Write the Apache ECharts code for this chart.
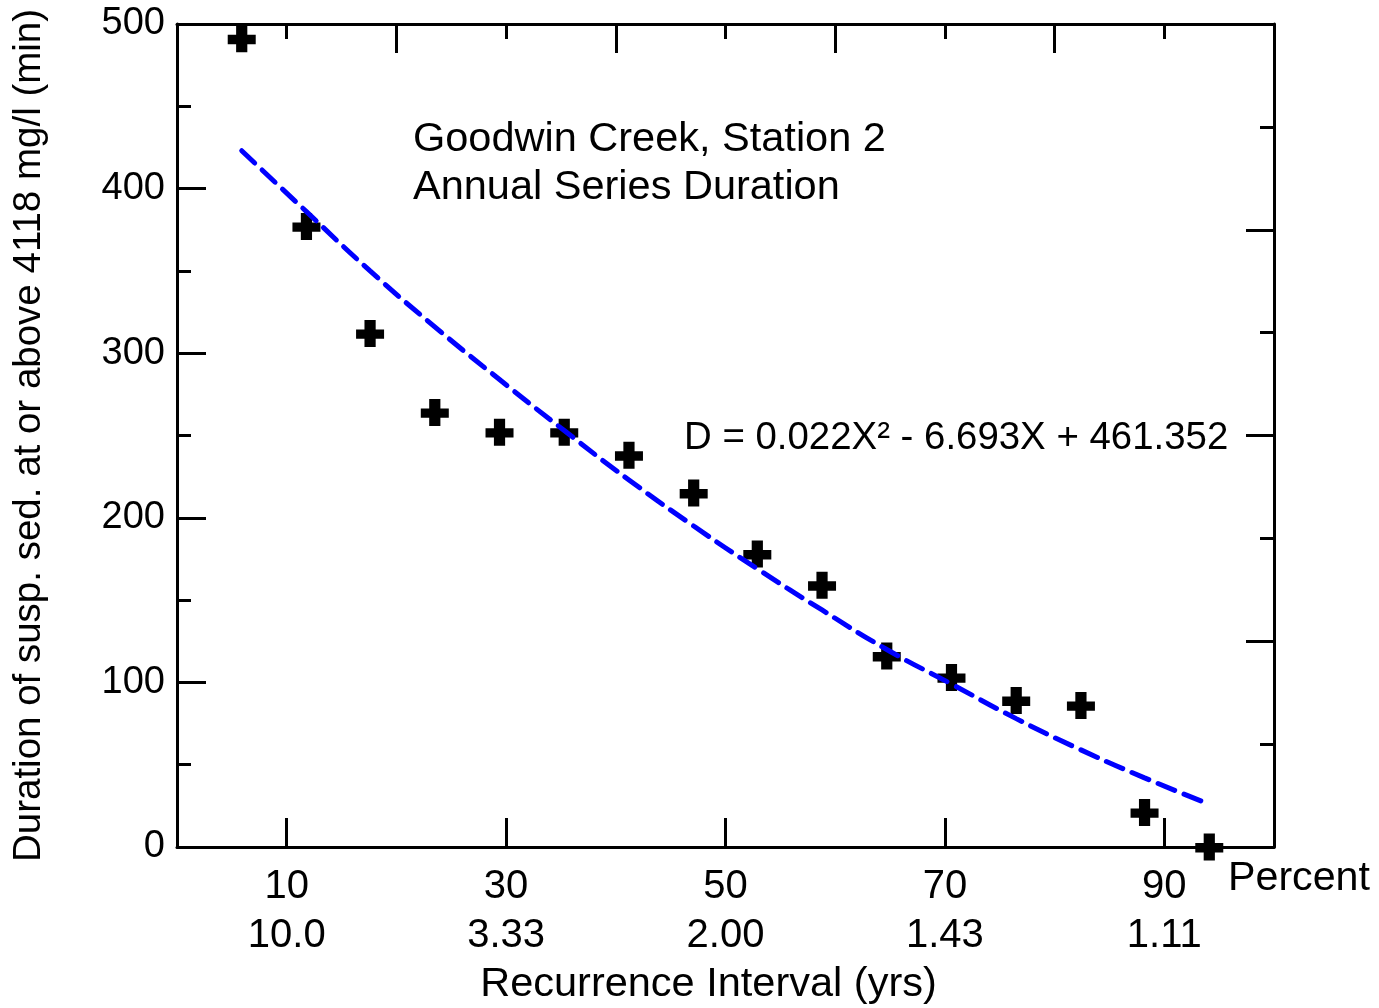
<!DOCTYPE html>
<html>
<head>
<meta charset="utf-8">
<script src="https://cdn.jsdelivr.net/npm/echarts@6/dist/echarts.min.js"></script>
<style>
html,body{margin:0;padding:0;background:#fff;}
#chart{width:1379px;height:1008px;}
</style>
</head>
<body>
<div id="chart"></div>
<script>
// Observed points: exceedance percent vs duration (min)
const pointPercent = [5.9, 11.8, 17.6, 23.5, 29.4, 35.3, 41.2, 47.1, 52.9, 58.8, 64.7, 70.6, 76.5, 82.4, 88.2, 94.1];
const pointDuration = [491, 377, 312, 264, 252, 252, 238, 215, 178, 159, 116, 103, 89, 86, 21, 0];
// Fitted curve
const curvePercent = [5.9, 11.8, 17.6, 23.5, 29.4, 35.3, 41.2, 47.1, 52.9, 58.8, 64.7, 70.6, 76.5, 82.4, 88.2, 94.1];
const curveDuration = [423, 386, 350, 316, 284, 253, 223, 195, 169, 144, 120, 99, 78, 59, 42, 26];
// Bottom axis tick labels
const percentTicks = [10, 30, 50, 70, 90];
const recurrenceLabels = ['10.0', '3.33', '2.00', '1.43', '1.11'];

const FONT = "'Liberation Sans', Arial, sans-serif";
const chart = echarts.init(document.getElementById('chart'), null, {renderer: 'canvas'});

const pointData = pointPercent.map((p, i) => [p, pointDuration[i]]);
const curveData = curvePercent.map((p, i) => [p, curveDuration[i]]);

const axisLine = {show: true, onZero: false, lineStyle: {color: '#000', width: 3}};

const option = {
  backgroundColor: '#fff',
  animation: false,
  grid: {left: 177, right: 105, top: 24, bottom: 161, containLabel: false, outerBoundsMode: 'none'},
  xAxis: [
    {
      type: 'value', position: 'bottom', min: 0, max: 100,
      axisLine: axisLine,
      splitLine: {show: false},
      axisTick: {show: true, inside: true, length: 29, customValues: percentTicks, lineStyle: {color: '#000', width: 3}},
      axisLabel: {
        show: true, customValues: percentTicks, margin: 15,
        fontFamily: FONT, fontSize: 40, lineHeight: 49, color: '#000', align: 'center',
        formatter: function (v) {
          const i = percentTicks.indexOf(v);
          return v + '\n' + (i >= 0 ? recurrenceLabels[i] : '');
        }
      },
      name: 'Recurrence Interval (yrs)', nameLocation: 'middle', nameGap: 117, nameMoveOverlap: false,
      nameTextStyle: {fontFamily: FONT, fontSize: 41.5, color: '#000', padding: [0, 34, 0, 0]}
    },
    {
      type: 'value', position: 'top', min: 0, max: 100, interval: 20,
      axisLine: axisLine,
      splitLine: {show: false},
      axisTick: {show: true, inside: true, length: 29, lineStyle: {color: '#000', width: 3}},
      minorTick: {show: true, splitNumber: 2, length: 15, lineStyle: {color: '#000', width: 3}},
      axisLabel: {show: false}
    }
  ],
  yAxis: [
    {
      type: 'value', position: 'left', min: 0, max: 500, interval: 100,
      axisLine: axisLine,
      splitLine: {show: false},
      axisTick: {show: true, inside: true, length: 29, lineStyle: {color: '#000', width: 3}},
      minorTick: {show: true, splitNumber: 2, length: 14, lineStyle: {color: '#000', width: 3}},
      axisLabel: {show: true, margin: 12, fontFamily: FONT, fontSize: 38, color: '#000'},
      name: 'Duration of susp. sed. at or above 4118 mg/l (min)', nameLocation: 'middle', nameGap: 128, nameMoveOverlap: false,
      nameTextStyle: {fontFamily: FONT, fontSize: 38.5, color: '#000'}
    },
    {
      type: 'value', position: 'right', min: 0, max: 8, interval: 2,
      axisLine: axisLine,
      splitLine: {show: false},
      axisTick: {show: true, inside: true, length: 28, lineStyle: {color: '#000', width: 3}},
      minorTick: {show: true, splitNumber: 2, length: 14, lineStyle: {color: '#000', width: 3}},
      axisLabel: {show: false}
    }
  ],
  series: [
    {
      type: 'scatter', xAxisIndex: 0, yAxisIndex: 0, clip: false,
      symbol: 'path://M3,0h4v3.5h3v3.5h-3v3h-4v-3h-3v-3.5h3z',
      symbolSize: [28, 27],
      itemStyle: {color: '#000', opacity: 1},
      data: pointData, z: 3
    },
    {
      type: 'line', xAxisIndex: 0, yAxisIndex: 0, smooth: true, showSymbol: false,
      lineStyle: {color: '#0000ff', width: 5, type: [18, 10], cap: 'round'},
      data: curveData, z: 4
    }
  ],
  graphic: [
    {
      type: 'text', left: 413, top: 116, silent: true,
      style: {text: 'Goodwin Creek, Station 2\nAnnual Series Duration', fontFamily: FONT, fontSize: 41.5, lineHeight: 48, fill: '#000'}
    },
    {
      type: 'text', left: 684, top: 415, silent: true,
      style: {text: 'D = 0.022X² - 6.693X + 461.352', fontFamily: FONT, fontSize: 38.4, lineHeight: 46, fill: '#000'}
    },
    {
      type: 'text', left: 1228, top: 856, silent: true,
      style: {text: 'Percent', fontFamily: FONT, fontSize: 41.2, lineHeight: 46, fill: '#000'}
    }
  ]
};
chart.setOption(option);
</script>
</body>
</html>
